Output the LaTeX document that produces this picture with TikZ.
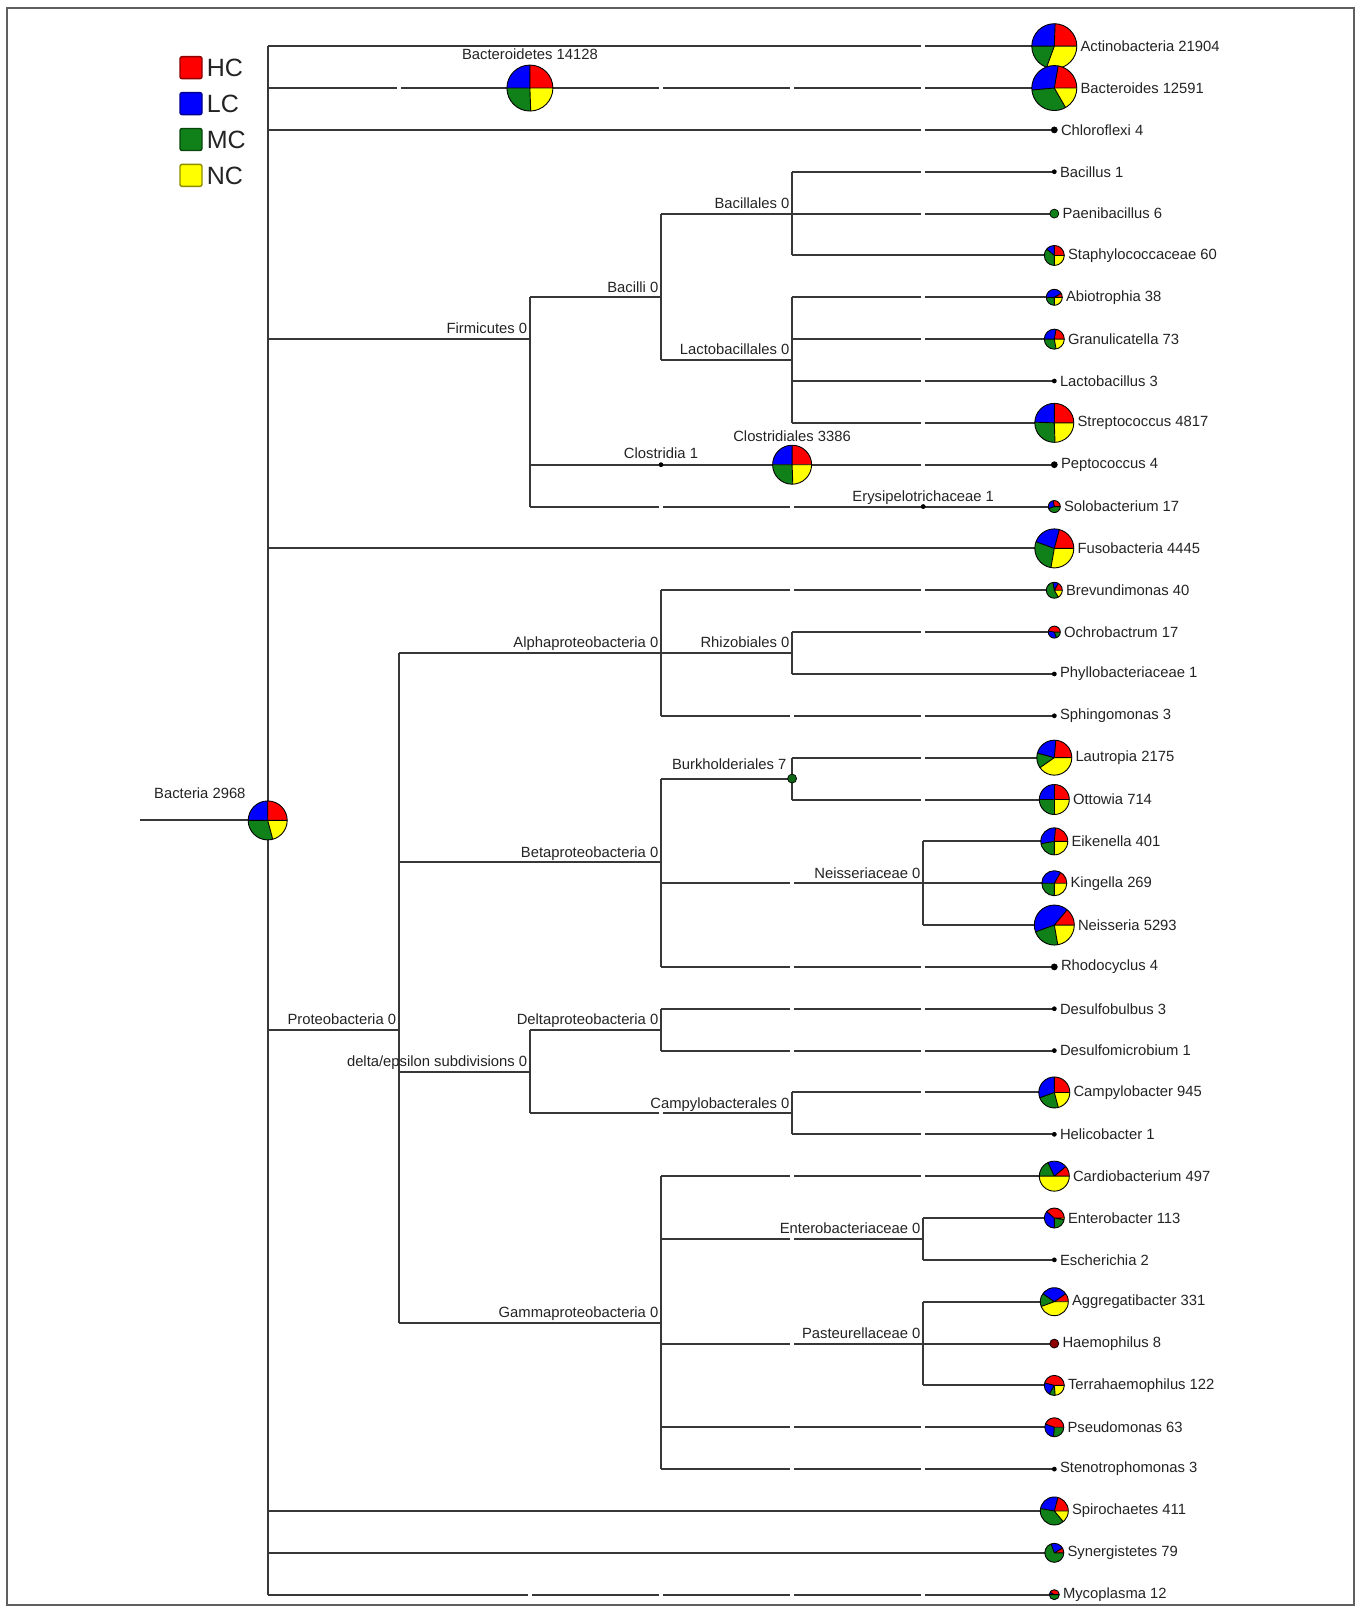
\documentclass[tikz,border=0pt]{standalone}
\usepackage{fontspec}
\setmainfont{Liberation Sans}
\usetikzlibrary{positioning}

\definecolor{hcred}{RGB}{255,0,0}
\definecolor{lcblue}{RGB}{0,0,255}
\definecolor{mcgreen}{RGB}{16,128,24}
\definecolor{ncyellow}{RGB}{255,255,0}
\definecolor{edgegray}{RGB}{55,55,55}
\definecolor{txtgray}{RGB}{35,35,35}
\definecolor{framegray}{RGB}{95,95,95}

\pgfdeclarelayer{edges}
\pgfsetlayers{edges,main}

\newcommand\lbl{\fontsize{14.8}{17}\selectfont}

% pie: name, column, row, radius, end of HC, end of LC, end of MC (degrees)
\newcommand\taxpie[7]{%
  \node[taxon, minimum size={2*#4pt}] (#1) at ({colx(#2)},{rowy(#3)}) {};
  \fill[hcred]    (#1.center) -- ++(0:#4pt)  arc[start angle=0,  end angle=#5,  radius=#4pt] -- cycle;
  \fill[lcblue]   (#1.center) -- ++(#5:#4pt) arc[start angle=#5, end angle=#6,  radius=#4pt] -- cycle;
  \fill[mcgreen]  (#1.center) -- ++(#6:#4pt) arc[start angle=#6, end angle=#7,  radius=#4pt] -- cycle;
  \fill[ncyellow] (#1.center) -- ++(#7:#4pt) arc[start angle=#7, end angle=360, radius=#4pt] -- cycle;
  \draw[wedge] (#1.center) -- ++(0:#4pt) (#1.center) -- ++(#5:#4pt)
               (#1.center) -- ++(#6:#4pt) (#1.center) -- ++(#7:#4pt);
  \draw[wedge] (#1.center) circle[radius=#4pt];
}
% one-colour dot: name, column, row, radius, colour
\newcommand\taxdot[5]{%
  \node[taxon, minimum size={2*#4pt}] (#1) at ({colx(#2)},{rowy(#3)}) {};
  \filldraw[fill=#5, draw=black, line width=0.7pt] (#1.center) circle[radius=#4pt];
}
% small break in a branch: column, row
\newcommand\brkat[2]{\fill[white] ({colx(#1)-2.2},{rowy(#2)-2.5}) rectangle ({colx(#1)+2.2},{rowy(#2)+2.5});}

\tikzset{
  branch/.style={draw=edgegray, line width=2pt},
  taxon/.style={circle, inner sep=0pt, outer sep=0pt},
  wedge/.style={draw=black, line width=0.9pt, line join=round},
  leaflabel/.style={font=\lbl, text=txtgray, inner sep=0pt, anchor=west},
  nodelabel/.style={font=\lbl, text=txtgray, inner sep=0pt, text height=10.6pt, text depth=3pt},
  keybox/.style={draw=#1!55!black, fill=#1, line width=1.4pt, rounded corners=2pt, minimum size=22pt, inner sep=0pt},
  keytext/.style={font=\fontsize{25}{28}\selectfont, text=txtgray, inner sep=0pt, anchor=west}
}

\begin{document}
\begin{tikzpicture}[x=1pt, y=1pt,
  declare function={colx(\k)=267.7+131.1*\k; rowy(\i)=-(46.2+41.85*\i);}]
\useasboundingbox (0,0) rectangle (1361,-1608);
\draw[framegray, line width=1.4pt] (7,-8) rectangle (1354,-1605);

% legend
\node[keybox=hcred]    (kHC) at (191,-67.7)  {};
\node[keybox=lcblue]   (kLC) at (191,-103.6) {};
\node[keybox=mcgreen]  (kMC) at (191,-139.5) {};
\node[keybox=ncyellow] (kNC) at (191,-175.4) {};
\node[keytext, right=4pt of kHC] (tHC) {HC};
\node[keytext, right=4pt of kLC] (tLC) {LC};
\node[keytext, right=4pt of kMC] (tMC) {MC};
\node[keytext, right=4pt of kNC] (tNC) {NC};

% inner taxa
\taxpie{bacteria}{0}{18.5}{19.5}{90}{180}{285}
\coordinate (stem) at (140,{rowy(18.5)});
\node[nodelabel, anchor=base east] (bacteria-lab) at ([shift={(-22,22.4)}]bacteria.center) {Bacteria 2968};

\taxpie{bacteroidetes}{2}{1}{23}{90}{180}{272}
\node[nodelabel, above=2pt of bacteroidetes] (bacteroidetes-lab) {Bacteroidetes 14128};

\coordinate (firmicutes) at ({colx(2)},{rowy(7)});
\coordinate (bacilli) at ({colx(3)},{rowy(6)});
\coordinate (bacillales) at ({colx(4)},{rowy(4)});
\coordinate (lactobacillales) at ({colx(4)},{rowy(7.5)});
\taxdot{clostridia}{3}{10}{2}{black}
\taxpie{clostridiales}{4}{10}{19.5}{90}{180}{272}
\taxdot{erysipelo}{5}{11}{2}{black}
\node[nodelabel, above left=2pt and 2.5pt of firmicutes] (firmicutes-lab) {Firmicutes 0};
\node[nodelabel, above left=2pt and 2.5pt of bacilli] (bacilli-lab) {Bacilli 0};
\node[nodelabel, above left=2pt and 2.5pt of bacillales] (bacillales-lab) {Bacillales 0};
\node[nodelabel, above left=2pt and 2.5pt of lactobacillales] (lactobacillales-lab) {Lactobacillales 0};
\node[nodelabel, above=1.5pt of clostridia] (clostridia-lab) {Clostridia 1};
\node[nodelabel, above=1pt of clostridiales] (clostridiales-lab) {Clostridiales 3386};
\node[nodelabel, above=0pt of erysipelo] (erysipelo-lab) {Erysipelotrichaceae 1};

\coordinate (proteo) at ({colx(1)},{rowy(23.5)});
\coordinate (alpha) at ({colx(3)},{rowy(14.5)});
\coordinate (rhizobiales) at ({colx(4)},{rowy(14.5)});
\coordinate (beta) at ({colx(3)},{rowy(19.5)});
\taxdot{burk}{4}{17.5}{4.5}{mcgreen!80!black}
\coordinate (neisseriaceae) at ({colx(5)},{rowy(20)});
\coordinate (deltaeps) at ({colx(2)},{rowy(24.5)});
\coordinate (delta) at ({colx(3)},{rowy(23.5)});
\coordinate (campylobacterales) at ({colx(4)},{rowy(25.5)});
\coordinate (gamma) at ({colx(3)},{rowy(30.5)});
\coordinate (enterobacteriaceae) at ({colx(5)},{rowy(28.5)});
\coordinate (pasteurellaceae) at ({colx(5)},{rowy(31)});
\node[nodelabel, above left=2pt and 2.5pt of proteo] (proteo-lab) {Proteobacteria 0};
\node[nodelabel, above left=2pt and 2.5pt of alpha] (alpha-lab) {Alphaproteobacteria 0};
\node[nodelabel, above left=2pt and 2.5pt of rhizobiales] (rhizobiales-lab) {Rhizobiales 0};
\node[nodelabel, above left=2pt and 2.5pt of beta] (beta-lab) {Betaproteobacteria 0};
\node[nodelabel, anchor=base east] (burk-lab) at ([shift={(-5.5,9.3)}]burk.center) {Burkholderiales 7};
\node[nodelabel, above left=2pt and 2.5pt of neisseriaceae] (neisseriaceae-lab) {Neisseriaceae 0};
\node[nodelabel, above left=2pt and 2.5pt of deltaeps] (deltaeps-lab) {delta/epsilon subdivisions 0};
\node[nodelabel, above left=2pt and 2.5pt of delta] (delta-lab) {Deltaproteobacteria 0};
\node[nodelabel, above left=2pt and 2.5pt of campylobacterales] (campylobacterales-lab) {Campylobacterales 0};
\node[nodelabel, above left=2pt and 2.5pt of gamma] (gamma-lab) {Gammaproteobacteria 0};
\node[nodelabel, above left=2pt and 2.5pt of enterobacteriaceae] (enterobacteriaceae-lab) {Enterobacteriaceae 0};
\node[nodelabel, above left=2pt and 2.5pt of pasteurellaceae] (pasteurellaceae-lab) {Pasteurellaceae 0};

% leaves
\taxpie{actino}{6}{0}{22.5}{88}{180}{250}
\taxpie{bacteroides}{6}{1}{22.5}{80}{185}{300}
\taxdot{chloroflexi}{6}{2}{3}{black}
\taxdot{bacillus}{6}{3}{2}{black}
\taxdot{paenibacillus}{6}{4}{4.5}{mcgreen}
\taxpie{staph}{6}{5}{10}{90}{140}{270}
\taxpie{abiotrophia}{6}{6}{8}{30}{180}{270}
\taxpie{granulicatella}{6}{7}{10}{80}{180}{280}
\taxdot{lactobacillus}{6}{8}{2}{black}
\taxpie{strepto}{6}{9}{19.5}{90}{178}{272}
\taxdot{pepto}{6}{10}{3}{black}
\taxpie{solob}{6}{11}{6}{100}{200}{360}
\taxpie{fuso}{6}{12}{19.5}{75}{160}{260}
\taxpie{brevun}{6}{13}{8}{60}{100}{300}
\taxpie{ochro}{6}{14}{6}{170}{290}{360}
\taxdot{phyllo}{6}{15}{2}{black}
\taxdot{sphingo}{6}{16}{2}{black}
\taxpie{lautropia}{6}{17}{17.5}{85}{165}{215}
\taxpie{ottowia}{6}{18}{15}{90}{180}{270}
\taxpie{eikenella}{6}{19}{13.5}{85}{190}{270}
\taxpie{kingella}{6}{20}{12.5}{60}{180}{270}
\taxpie{neisseria}{6}{21}{20}{50}{200}{280}
\taxdot{rhodo}{6}{22}{3}{black}
\taxdot{desulfobulbus}{6}{23}{2}{black}
\taxdot{desulfomicro}{6}{24}{2}{black}
\taxpie{campylo}{6}{25}{15.5}{90}{200}{285}
\taxdot{helico}{6}{26}{2}{black}
\taxpie{cardio}{6}{27}{15}{40}{115}{180}
\taxpie{entero}{6}{28}{10}{140}{270}{350}
\taxdot{escher}{6}{29}{2}{black}
\taxpie{aggreg}{6}{30}{14}{35}{145}{200}
\taxdot{haemo}{6}{31}{4.5}{hcred!55!black}
\taxpie{terra}{6}{32}{10}{165}{240}{275}
\taxpie{pseudo}{6}{33}{9.5}{160}{265}{360}
\taxdot{steno}{6}{34}{2}{black}
\taxpie{spiro}{6}{35}{14}{75}{170}{310}
\taxpie{synerg}{6}{36}{9.5}{30}{110}{360}
\taxpie{myco}{6}{37}{5}{150}{180}{360}

\node[leaflabel, right=3.5pt of actino] (actino-lab) {Actinobacteria 21904};
\node[leaflabel, right=3.5pt of bacteroides] (bacteroides-lab) {Bacteroides 12591};
\node[leaflabel, right=3.5pt of chloroflexi] (chloroflexi-lab) {Chloroflexi 4};
\node[leaflabel, right=3.5pt of bacillus] (bacillus-lab) {Bacillus 1};
\node[leaflabel, right=3.5pt of paenibacillus] (paenibacillus-lab) {Paenibacillus 6};
\node[leaflabel, right=3.5pt of staph] (staph-lab) {Staphylococcaceae 60};
\node[leaflabel, right=3.5pt of abiotrophia] (abiotrophia-lab) {Abiotrophia 38};
\node[leaflabel, right=3.5pt of granulicatella] (granulicatella-lab) {Granulicatella 73};
\node[leaflabel, right=3.5pt of lactobacillus] (lactobacillus-lab) {Lactobacillus 3};
\node[leaflabel, right=3.5pt of strepto] (strepto-lab) {Streptococcus 4817};
\node[leaflabel, right=3.5pt of pepto] (pepto-lab) {Peptococcus 4};
\node[leaflabel, right=3.5pt of solob] (solob-lab) {Solobacterium 17};
\node[leaflabel, right=3.5pt of fuso] (fuso-lab) {Fusobacteria 4445};
\node[leaflabel, right=3.5pt of brevun] (brevun-lab) {Brevundimonas 40};
\node[leaflabel, right=3.5pt of ochro] (ochro-lab) {Ochrobactrum 17};
\node[leaflabel, right=3.5pt of phyllo] (phyllo-lab) {Phyllobacteriaceae 1};
\node[leaflabel, right=3.5pt of sphingo] (sphingo-lab) {Sphingomonas 3};
\node[leaflabel, right=3.5pt of lautropia] (lautropia-lab) {Lautropia 2175};
\node[leaflabel, right=3.5pt of ottowia] (ottowia-lab) {Ottowia 714};
\node[leaflabel, right=3.5pt of eikenella] (eikenella-lab) {Eikenella 401};
\node[leaflabel, right=3.5pt of kingella] (kingella-lab) {Kingella 269};
\node[leaflabel, right=3.5pt of neisseria] (neisseria-lab) {Neisseria 5293};
\node[leaflabel, right=3.5pt of rhodo] (rhodo-lab) {Rhodocyclus 4};
\node[leaflabel, right=3.5pt of desulfobulbus] (desulfobulbus-lab) {Desulfobulbus 3};
\node[leaflabel, right=3.5pt of desulfomicro] (desulfomicro-lab) {Desulfomicrobium 1};
\node[leaflabel, right=3.5pt of campylo] (campylo-lab) {Campylobacter 945};
\node[leaflabel, right=3.5pt of helico] (helico-lab) {Helicobacter 1};
\node[leaflabel, right=3.5pt of cardio] (cardio-lab) {Cardiobacterium 497};
\node[leaflabel, right=3.5pt of entero] (entero-lab) {Enterobacter 113};
\node[leaflabel, right=3.5pt of escher] (escher-lab) {Escherichia 2};
\node[leaflabel, right=3.5pt of aggreg] (aggreg-lab) {Aggregatibacter 331};
\node[leaflabel, right=3.5pt of haemo] (haemo-lab) {Haemophilus 8};
\node[leaflabel, right=3.5pt of terra] (terra-lab) {Terrahaemophilus 122};
\node[leaflabel, right=3.5pt of pseudo] (pseudo-lab) {Pseudomonas 63};
\node[leaflabel, right=3.5pt of steno] (steno-lab) {Stenotrophomonas 3};
\node[leaflabel, right=3.5pt of spiro] (spiro-lab) {Spirochaetes 411};
\node[leaflabel, right=3.5pt of synerg] (synerg-lab) {Synergistetes 79};
\node[leaflabel, right=3.5pt of myco] (myco-lab) {Mycoplasma 12};

% branches
\begin{pgfonlayer}{edges}
\draw[branch] (stem) -- (bacteria);
\draw[branch] (bacteria |- actino) -- (bacteria |- myco);
\foreach \c in {actino,bacteroidetes,chloroflexi,firmicutes,fuso,proteo,spiro,synerg,myco}
  \draw[branch] (bacteria |- \c) -- (\c);
\draw[branch] (bacteroidetes) -- (bacteroides);

\draw[branch] (firmicutes |- bacilli) -- (firmicutes |- erysipelo);
\foreach \c in {bacilli,clostridia,erysipelo}
  \draw[branch] (firmicutes |- \c) -- (\c);
\draw[branch] (bacilli |- bacillales) -- (bacilli |- lactobacillales);
\foreach \c in {bacillales,lactobacillales}
  \draw[branch] (bacilli |- \c) -- (\c);
\draw[branch] (bacillales |- bacillus) -- (bacillales |- staph);
\foreach \c in {bacillus,paenibacillus,staph}
  \draw[branch] (bacillales |- \c) -- (\c);
\draw[branch] (lactobacillales |- abiotrophia) -- (lactobacillales |- strepto);
\foreach \c in {abiotrophia,granulicatella,lactobacillus,strepto}
  \draw[branch] (lactobacillales |- \c) -- (\c);
\draw[branch] (clostridia) -- (clostridiales);
\draw[branch] (clostridiales) -- (pepto);
\draw[branch] (erysipelo) -- (solob);

\draw[branch] (proteo |- alpha) -- (proteo |- gamma);
\foreach \c in {alpha,beta,deltaeps,gamma}
  \draw[branch] (proteo |- \c) -- (\c);
\draw[branch] (alpha |- brevun) -- (alpha |- sphingo);
\foreach \c in {brevun,rhizobiales,sphingo}
  \draw[branch] (alpha |- \c) -- (\c);
\draw[branch] (rhizobiales |- ochro) -- (rhizobiales |- phyllo);
\foreach \c in {ochro,phyllo}
  \draw[branch] (rhizobiales |- \c) -- (\c);
\draw[branch] (beta |- burk) -- (beta |- rhodo);
\foreach \c in {burk,neisseriaceae,rhodo}
  \draw[branch] (beta |- \c) -- (\c);
\draw[branch] (burk |- lautropia) -- (burk |- ottowia);
\foreach \c in {lautropia,ottowia}
  \draw[branch] (burk |- \c) -- (\c);
\draw[branch] (neisseriaceae |- eikenella) -- (neisseriaceae |- neisseria);
\foreach \c in {eikenella,kingella,neisseria}
  \draw[branch] (neisseriaceae |- \c) -- (\c);
\draw[branch] (deltaeps |- delta) -- (deltaeps |- campylobacterales);
\foreach \c in {delta,campylobacterales}
  \draw[branch] (deltaeps |- \c) -- (\c);
\draw[branch] (delta |- desulfobulbus) -- (delta |- desulfomicro);
\foreach \c in {desulfobulbus,desulfomicro}
  \draw[branch] (delta |- \c) -- (\c);
\draw[branch] (campylobacterales |- campylo) -- (campylobacterales |- helico);
\foreach \c in {campylo,helico}
  \draw[branch] (campylobacterales |- \c) -- (\c);
\draw[branch] (gamma |- cardio) -- (gamma |- steno);
\foreach \c in {cardio,enterobacteriaceae,pasteurellaceae,pseudo,steno}
  \draw[branch] (gamma |- \c) -- (\c);
\draw[branch] (enterobacteriaceae |- entero) -- (enterobacteriaceae |- escher);
\foreach \c in {entero,escher}
  \draw[branch] (enterobacteriaceae |- \c) -- (\c);
\draw[branch] (pasteurellaceae |- aggreg) -- (pasteurellaceae |- terra);
\foreach \c in {aggreg,haemo,terra}
  \draw[branch] (pasteurellaceae |- \c) -- (\c);

% breaks where hidden ranks sit
\foreach \k/\r in {5/0, 1/1, 3/1, 4/1, 5/1, 5/2, 5/3, 5/4, 5/6, 5/7, 5/8, 5/9, 5/10,
    3/11, 4/11, 4/13, 5/13, 5/14, 4/16, 5/16, 5/17, 5/18, 4/20, 4/22, 5/22,
    4/23, 5/23, 4/24, 5/24, 5/25, 3/25.5, 5/26, 4/27, 5/27, 4/28.5, 4/31,
    4/33, 5/33, 4/34, 5/34, 2/37, 3/37, 4/37, 5/37}
  \brkat{\k}{\r};
\end{pgfonlayer}
\end{tikzpicture}
\end{document}
